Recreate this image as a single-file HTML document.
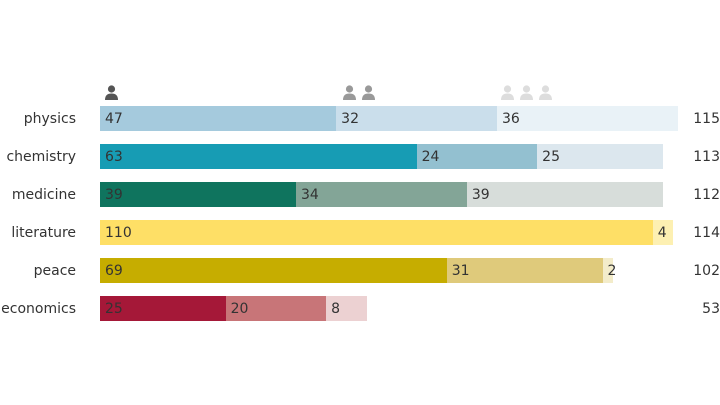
<!DOCTYPE html><html><head><style>
body{margin:0;width:720px;height:405px;background:#fff;font-family:"DejaVu Sans","Liberation Sans",sans-serif;position:relative;overflow:hidden}
.s{position:absolute;height:25px;font-size:14px;color:#333;line-height:27px;box-sizing:border-box;padding-left:5px;white-space:nowrap}
.l{position:absolute;right:644px;font-size:14px;color:#333;line-height:27px;text-align:right}
.t{position:absolute;left:680px;width:40px;text-align:right;font-size:14px;color:#333;line-height:27px}
</style></head><body>
<svg width="720" height="405" style="position:absolute;left:0;top:0">
<defs><g id="u"><circle cx="6.5" cy="4" r="3.6"/><path d="M0 15 Q0 8.5 6.5 8.5 Q13 8.5 13 15 Z"/></g></defs>
<use href="#u" x="105" y="85" fill="#555"/>
<use href="#u" x="343" y="85" fill="#999"/><use href="#u" x="362" y="85" fill="#999"/>
<use href="#u" x="501" y="85" fill="#ddd"/><use href="#u" x="520" y="85" fill="#ddd"/><use href="#u" x="539" y="85" fill="#ddd"/>
</svg>
<div id="c"></div>
<script>
const rows=[["physics",[47,32,36],["#a5cadd","#cadeeb","#e9f2f7"],115],
["chemistry",[63,24,25],["#179cb4","#93c0d0","#dce7ee"],113],
["medicine",[39,34,39],["#0f745e","#83a597","#d7ddda"],112],
["literature",[110,4],["#fedf66","#fdf0b2"],114],
["peace",[69,31,2],["#c6ad00","#dfca7b","#f3ecca"],102],
["economics",[25,20,8],["#a51838","#c87578","#ecd1d2"],53]];
let h="";const k=5.025;
rows.forEach((r,i)=>{const y=106+i*38;let x=100;
h+=`<div class="l" style="top:${y}px">${r[0]}</div>`;
r[1].forEach((v,j)=>{const w=v*k;h+=`<div class="s" style="left:${x}px;top:${y}px;width:${w+0.5}px;background:${r[2][j]}">${v}</div>`;x+=w;});
h+=`<div class="t" style="top:${y}px">${r[3]}</div>`;});
document.getElementById("c").innerHTML=h;
</script>
</body></html>
